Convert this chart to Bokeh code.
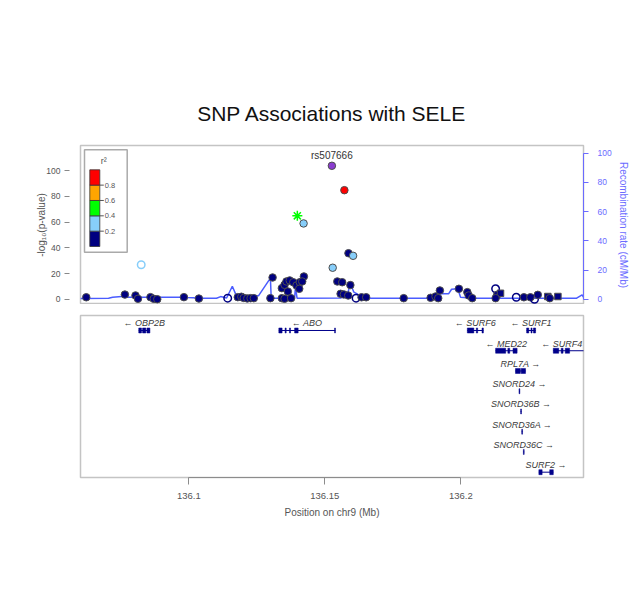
from bokeh.plotting import figure
from bokeh.models import Range1d, LinearAxis, FixedTicker, ColumnDataSource
from bokeh.layouts import column
from bokeh.embed import file_html
from bokeh.resources import INLINE
from bokeh.core.properties import value

FONT = "Liberation Sans"

title_text = "SNP Associations with SELE"
chrom = "chr9"
lead_snp = "rs507666"

# ---------------- SNP data ----------------
snp_pos = [136.0623, 136.0765, 136.0804, 136.0813, 136.0859, 136.0871, 136.0884, 136.0982, 136.1037, 136.0825,
           136.1143, 136.1180, 136.1193, 136.1202, 136.1215, 136.1227, 136.1239, 136.1300, 136.1308, 136.1342,
           136.1352, 136.1376, 136.1342, 136.1352, 136.1359, 136.1371, 136.1384, 136.1396, 136.1408, 136.1423,
           136.1417, 136.1364, 136.1406, 136.1526, 136.1572, 136.1399, 136.1422, 136.1587, 136.1604, 136.1529,
           136.1546, 136.1564, 136.1594, 136.1558, 136.1570, 136.1586, 136.1615, 136.1635, 136.1652, 136.1790,
           136.1889, 136.1907, 136.1917, 136.1923, 136.1993, 136.2024, 136.2029, 136.2042, 136.2128, 136.2134,
           136.2146, 136.2128, 136.2204, 136.2232, 136.2256, 136.2271, 136.2283, 136.2320, 136.2327, 136.2357]
snp_logp = [1.5, 3.6, 2.9, 0.3, 1.6, 0.3, 0.0, 1.6, 0.5, 26.8,
            0.8, 1.6, 1.9, 1.0, 0.6, 0.8, 0.8, 0.8, 16.9, 0.8,
            0.3, 0.8, 8.6, 11.2, 13.8, 14.6, 13.2, 10.7, 13.2, 17.7,
            13.8, 6.0, 8.1, 103.9, 84.9, 64.9, 59.0, 35.8, 33.8, 24.5,
            13.8, 13.2, 11.0, 4.2, 3.7, 2.9, 0.8, 1.5, 1.5, 0.8,
            1.1, 2.1, 0.8, 6.8, 8.1, 5.5, 2.9, 0.8, 8.1, 3.4,
            4.6, 0.8, 1.5, 1.5, 1.5, 0.0, 3.4, 2.1, 0.8, 2.1]
snp_r2 = [0.1] * 70
for i, r in [(9, 0.3), (33, 1.0), (34, 0.9), (35, 0.5), (36, 0.3), (38, 0.3), (39, 0.3)]:
    snp_r2[i] = r
snp_shape = ["circle"] * 70
for i, s in [(9, "open"), (10, "open"), (35, "asterisk"), (46, "open"), (58, "open"),
             (60, "square"), (62, "open"), (65, "open"), (67, "square"), (69, "square")]:
    snp_shape[i] = s

# ---------------- recombination rate ----------------
recomb_pos = [136.0602, 136.0705, 136.0720, 136.0764, 136.0778, 136.0973, 136.0984, 136.0995, 136.1054,
              136.1102, 136.1117, 136.1139, 136.1160, 136.1175, 136.1256, 136.1300, 136.1303, 136.1389,
              136.1392, 136.1398, 136.1558, 136.1582, 136.1594, 136.1607, 136.1619, 136.1631, 136.1643,
              136.1889, 136.1901, 136.1955, 136.1966, 136.1989, 136.1999, 136.2047, 136.2426, 136.2446,
              136.2455]
recomb_rate = [0.5, 0.6, 1.4, 2.0, 1.4, 1.4, 2.8, 1.2, 0.7,
               0.7, 1.8, 0.8, 8.9, 2.3, 2.3, 14.4, 0.7, 0.7,
               8.2, 0.7, 0.8, 2.5, 10.5, 4.8, 3.7, 2.0, 0.7,
               0.7, 3.7, 3.7, 6.8, 7.1, 1.4, 0.7, 0.7, 3.0,
               0.3]

# ---------------- genes ----------------
gene_name = ["OBP2B", "ABO", "SURF6", "SURF1", "MED22", "SURF4", "RPL7A",
             "SNORD24", "SNORD36B", "SNORD36A", "SNORD36C", "SURF2"]
gene_start = [136.0816, 136.1331, 136.2024, 136.2242, 136.2128, 136.2340, 136.2201,
              136.2214, 136.2220, 136.2224, 136.2230, 136.2287]
gene_end = [136.0857, 136.1539, 136.2083, 136.2275, 136.2207, 136.2520, 136.2238,
            136.2217, 136.2223, 136.2227, 136.2233, 136.2340]
gene_strand = ["-", "-", "-", "-", "-", "-", "+", "+", "+", "+", "+", "+"]
gene_row = [1, 1, 1, 1, 2, 2, 3, 4, 5, 6, 7, 8]

exon_gene = ["OBP2B", "OBP2B", "OBP2B",
             "ABO", "ABO", "ABO", "ABO", "ABO",
             "SURF6", "SURF6", "SURF6",
             "SURF1", "SURF1", "SURF1",
             "MED22", "MED22", "MED22",
             "SURF4", "SURF4", "SURF4",
             "RPL7A", "RPL7A",
             "SNORD24", "SNORD36B", "SNORD36A", "SNORD36C",
             "SURF2", "SURF2"]
exon_start = [136.0816, 136.0830, 136.0846,
              136.1331, 136.1354, 136.1370, 136.1389, 136.1536,
              136.2024, 136.2057, 136.2078,
              136.2242, 136.2258, 136.2267,
              136.2128, 136.2173, 136.2192,
              136.2340, 136.2369, 136.2384,
              136.2201, 136.2222,
              136.2214, 136.2220, 136.2224, 136.2230,
              136.2287, 136.2327]
exon_end = [136.0826, 136.0842, 136.0857,
            136.1343, 136.1358, 136.1374, 136.1402, 136.1539,
            136.2048, 136.2062, 136.2083,
            136.2250, 136.2262, 136.2275,
            136.2165, 136.2180, 136.2207,
            136.2360, 136.2376, 136.2400,
            136.2219, 136.2238,
            136.2217, 136.2223, 136.2227, 136.2233,
            136.2299, 136.2340]

y_ticks = [0, 20, 40, 60, 80, 100]
recomb_ticks = [0, 20, 40, 60, 80, 100]
x_ticks = [136.1, 136.15, 136.2]
x_tick_labels = ["136.1", "136.15", "136.2"]
r2_breaks = [0.2, 0.4, 0.6, 0.8]
r2_labels = ["0.2", "0.4", "0.6", "0.8"]

# ---------------- styles ----------------
LD_COLORS = ["#000080", "#87cefa", "#00ff00", "#ffa500", "#ff0000"]
LEAD_COLOR = "#8a3ccf"
GENE_COLOR = "#00008b"
RECOMB_COLOR = "#4a5cff"
AXIS_GREY = "#555555"
BOX_GREY = "#c4c4c4"
RIGHT_BLUE = "#6b6bff"

def ld_color(r2):
    idx = sum(1 for b in r2_breaks if r2 >= b)
    return LD_COLORS[idx]

colors = [LEAD_COLOR if r >= 1.0 else ld_color(r) for r in snp_r2]

X0, X1 = 136.06018, 136.24511
Y0, Y1 = -4.13, 119.7
FRAME_W, FRAME_H = 503, 159
LEFT, RIGHT, TOP = 80, 52, 145

# ---------------- top panel ----------------
p1 = figure(width=LEFT + FRAME_W + RIGHT, height=TOP + FRAME_H,
            x_range=Range1d(X0, X1), y_range=Range1d(Y0, Y1),
            output_backend="svg", toolbar_location=None,
            min_border_left=LEFT, min_border_right=RIGHT, min_border_top=TOP, min_border_bottom=0,
            x_axis_location=None, title=title_text)
p1.title.align = "center"
p1.title.text_font = FONT
p1.title.text_font_size = "21px"
p1.title.text_font_style = "normal"
p1.title.text_color = "#111111"
p1.title.standoff = 41
p1.grid.visible = False
p1.outline_line_color = BOX_GREY
p1.outline_line_width = 1.5

ya = p1.yaxis[0]
ya.ticker = FixedTicker(ticks=y_ticks)
ya.axis_label = "-log\u2081\u2080(p-value)"
ya.axis_line_color = None
ya.major_tick_in = -11
ya.major_tick_out = 16
ya.minor_tick_line_color = None
ya.major_tick_line_color = "#888888"
ya.major_label_standoff = 4
ya.axis_label_standoff = -4
ya.major_label_text_font = FONT
ya.major_label_text_font_size = "8.5px"
ya.major_label_text_color = AXIS_GREY
ya.axis_label_text_font = FONT
ya.axis_label_text_font_size = "10px"
ya.axis_label_text_font_style = "normal"
ya.axis_label_text_color = AXIS_GREY

p1.extra_y_ranges = {"recomb": Range1d(-3.63, 105.3)}
ra = LinearAxis(y_range_name="recomb", axis_label="Recombination rate (cM/Mb)",
                ticker=FixedTicker(ticks=recomb_ticks), bounds=(0, 100))
ra.axis_line_color = RIGHT_BLUE
ra.major_tick_line_color = RIGHT_BLUE
ra.minor_tick_line_color = None
ra.major_tick_in = 0
ra.major_tick_out = 5
ra.major_label_standoff = 9
ra.axis_label_standoff = 3
ra.major_label_text_font = FONT
ra.major_label_text_font_size = "8.5px"
ra.major_label_text_color = RIGHT_BLUE
ra.axis_label_text_font = FONT
ra.axis_label_text_font_size = "10px"
ra.axis_label_text_font_style = "normal"
ra.axis_label_text_color = RIGHT_BLUE
p1.add_layout(ra, "right")

p1.line(recomb_pos, recomb_rate, y_range_name="recomb", line_color=RECOMB_COLOR, line_width=1.5)

marker_map = {"circle": "circle", "open": "circle", "square": "square", "asterisk": "asterisk"}
src = ColumnDataSource(dict(
    x=snp_pos, y=snp_logp,
    marker=[marker_map[s] for s in snp_shape],
    fill=colors,
    falpha=[0.0 if s in ("open", "asterisk") else 1.0 for s in snp_shape],
    line=[c if s in ("open", "asterisk") else "#4d4d4d" for s, c in zip(snp_shape, colors)],
    size=[10 if s == "asterisk" else (6.5 if s == "square" else 7.5) for s in snp_shape],
    lw=[1.5 if s in ("open", "asterisk") else 1.0 for s in snp_shape],
))
p1.scatter("x", "y", source=src, marker="marker", size="size", fill_color="fill",
           fill_alpha="falpha", line_color="line", line_width="lw")

li = snp_r2.index(max(snp_r2))
p1.text(x=[snp_pos[li]], y=[snp_logp[li]], text=[lead_snp], y_offset=-10,
        text_align="center", text_baseline="middle", text_font=value(FONT),
        text_font_size="10px", text_color="#333333")

# ---- r2 legend, placed in frame pixels (offsets from the frame's top-left corner) ----
def fx(px):
    return X0 + px / FRAME_W * (X1 - X0)

def fy(py):
    return Y1 - py / FRAME_H * (Y1 - Y0)

box_l, box_r, box_t, box_b = 4, 46.7, 4.3, 106.7
bar_l, bar_r, bar_t, bar_b = 9.3, 19.3, 24.3, 101.0
n_cells = len(LD_COLORS)
cell_h = (bar_b - bar_t) / n_cells
p1.quad(left=[fx(box_l)], right=[fx(box_r)], top=[fy(box_t)], bottom=[fy(box_b)],
        fill_color="white", line_color="#aaaaaa", line_width=1.5)
cell_bottoms = [bar_b - i * cell_h for i in range(n_cells)]
p1.quad(left=[fx(bar_l)] * n_cells, right=[fx(bar_r)] * n_cells,
        bottom=[fy(b) for b in cell_bottoms], top=[fy(b - cell_h) for b in cell_bottoms],
        fill_color=LD_COLORS, line_color="#333333", line_width=0.8)
tick_py = [bar_b - (i + 1) * cell_h for i in range(len(r2_breaks))]
p1.segment(x0=[fx(bar_r)] * len(tick_py), x1=[fx(bar_r + 4)] * len(tick_py),
           y0=[fy(t) for t in tick_py], y1=[fy(t) for t in tick_py],
           line_color=AXIS_GREY, line_width=1)
p1.text(x=[fx(bar_r + 5)] * len(tick_py), y=[fy(t) for t in tick_py], text=r2_labels,
        text_align="left", text_baseline="middle", text_font=value(FONT),
        text_font_size="7.5px", text_color=AXIS_GREY)
p1.text(x=[fx(23.3)], y=[fy(15.7)], text=["r\u00b2"], text_align="center",
        text_baseline="middle", text_font=value(FONT), text_font_size="9px",
        text_color=AXIS_GREY)

# ---------------- gene panel ----------------
G_TOP, G_H, G_BOTTOM = 11, 162, 57
p2 = figure(width=LEFT + FRAME_W + RIGHT, height=G_TOP + G_H + G_BOTTOM,
            x_range=p1.x_range, y_range=Range1d(-8.263, -0.259),
            output_backend="svg", toolbar_location=None,
            min_border_left=LEFT, min_border_right=RIGHT, min_border_top=G_TOP,
            min_border_bottom=G_BOTTOM, y_axis_location=None)
p2.grid.visible = False
p2.outline_line_color = BOX_GREY
p2.outline_line_width = 1.5

xa = p2.xaxis[0]
xa.ticker = FixedTicker(ticks=x_ticks)
xa.major_label_overrides = dict(zip(x_ticks, x_tick_labels))
xa.bounds = (x_ticks[0], x_ticks[-1])
xa.axis_label = "Position on %s (Mb)" % chrom
xa.axis_line_color = "#8c8c8c"
xa.major_tick_line_color = "#8c8c8c"
xa.minor_tick_line_color = None
xa.major_tick_in = 0
xa.major_tick_out = 7
xa.major_label_standoff = 8
xa.axis_label_standoff = 5
xa.major_label_text_font = FONT
xa.major_label_text_font_size = "9.5px"
xa.major_label_text_color = AXIS_GREY
xa.axis_label_text_font = FONT
xa.axis_label_text_font_size = "10px"
xa.axis_label_text_font_style = "normal"
xa.axis_label_text_color = AXIS_GREY

row_of = dict(zip(gene_name, gene_row))
p2.segment(x0=gene_start, y0=[-r for r in gene_row], x1=gene_end, y1=[-r for r in gene_row],
           line_color=GENE_COLOR, line_width=1)
p2.rect(x=[(a + b) / 2 for a, b in zip(exon_start, exon_end)],
        y=[-row_of[g] for g in exon_gene],
        width=[b - a for a, b in zip(exon_start, exon_end)],
        height=5, height_units="screen",
        fill_color=GENE_COLOR, line_color=GENE_COLOR, line_width=0.5)

lab_x, lab_y, lab_t, lab_align = [], [], [], []
edge_pad = 0.0005
for n, s, e, st, r in zip(gene_name, gene_start, gene_end, gene_strand, gene_row):
    t = ("\u2190 " + n) if st == "-" else (n + " \u2192")
    mid = (s + e) / 2
    half = len(t) * 0.00135
    if mid + half > X1:
        lab_x.append(X1 - edge_pad)
        lab_align.append("right")
    else:
        lab_x.append(mid)
        lab_align.append("center")
    lab_y.append(-r + 0.35)
    lab_t.append(t)
lsrc = ColumnDataSource(dict(x=lab_x, y=lab_y, text=lab_t, align=lab_align))
p2.text("x", "y", text="text", source=lsrc, text_align="align", text_baseline="middle",
        text_font=value(FONT), text_font_size="9px", text_font_style="italic",
        text_color="#3a3a3a")

layout = column(p1, p2)
open("out.html", "w").write(file_html(layout, INLINE))
